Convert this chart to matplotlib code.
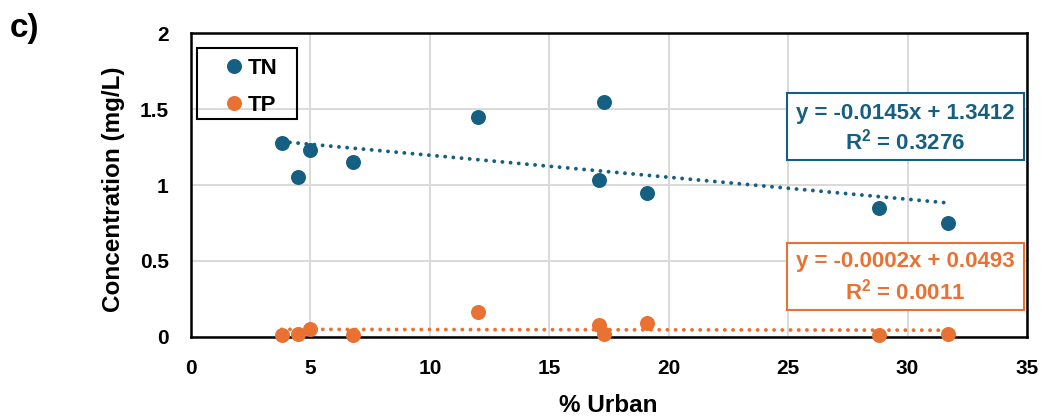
import matplotlib
matplotlib.use("Agg")
import matplotlib.pyplot as plt
from matplotlib.patches import Rectangle
from matplotlib.lines import Line2D
import numpy as np

# ---- data ----
urban = [3.8, 4.5, 5.0, 6.8, 12.0, 17.3, 17.1, 19.1, 28.8, 31.7]
tn = [1.28, 1.05, 1.23, 1.15, 1.45, 1.55, 1.03, 0.95, 0.85, 0.75]
tp = [0.01, 0.02, 0.05, 0.01, 0.16, 0.02, 0.08, 0.09, 0.01, 0.02]
tn_fit = (-0.0145, 1.3412)
tp_fit = (-0.0002, 0.0493)
tn_r2 = "0.3276"
tp_r2 = "0.0011"
xticks = [0, 5, 10, 15, 20, 25, 30, 35]
yticks = [0, 0.5, 1, 1.5, 2]
ytick_labels = ["0", "0.5", "1", "1.5", "2"]

C_TN = "#156082"
C_TP = "#E97132"
FONT = ["Liberation Sans", "DejaVu Sans"]
plt.rcParams["font.family"] = FONT
plt.rcParams["font.weight"] = "bold"
plt.rcParams["mathtext.fontset"] = "custom"
plt.rcParams["mathtext.bf"] = "Liberation Sans:bold"
plt.rcParams["mathtext.rm"] = "Liberation Sans:bold"

fig = plt.figure(figsize=(10.47, 4.19), dpi=100)
ax = fig.add_axes([0.1824, 0.1964, 0.7985, 0.7241])
ax.set_xlim(0, 35)
ax.set_ylim(0, 2)
ax.set_xticks(xticks)
ax.set_xticklabels([str(v) for v in xticks])
ax.set_yticks(yticks)
ax.set_yticklabels(ytick_labels)
ax.tick_params(length=0, labelsize=15, pad=16)
for lab in ax.get_xticklabels() + ax.get_yticklabels():
    lab.set_fontweight("bold")
ax.grid(True, color="#d9d9d9", lw=1.4, zorder=0)
ax.set_axisbelow(True)
for s in ax.spines.values():
    s.set_linewidth(1.8)
    s.set_color("black")
    s.set_zorder(4)

xs = np.array([min(urban), max(urban)])
ax.plot(xs, tn_fit[0] * xs + tn_fit[1], color=C_TN, lw=2.8,
        linestyle=(0, (0.01, 2.1)), dash_capstyle="round", zorder=2)
ax.plot(xs, tp_fit[0] * xs + tp_fit[1], color=C_TP, lw=2.8,
        linestyle=(0, (0.01, 2.1)), dash_capstyle="round", zorder=2)

ax.plot(urban, tn, "o", color=C_TN, ms=10.8, mew=0, clip_on=False, zorder=5)
ax.plot(urban, tp, "o", color=C_TP, ms=10.8, mew=0, clip_on=False, zorder=5)

# legend
handles = [Line2D([], [], ls="none", marker="o", color=C_TN, ms=10.8, mew=0),
           Line2D([], [], ls="none", marker="o", color=C_TP, ms=10.8, mew=0)]
leg = ax.legend(handles, ["TN", "TP"], loc="upper left",
                bbox_to_anchor=(0.0425, 0.918), borderaxespad=0, borderpad=0,
                frameon=False, handlelength=0.7, handletextpad=0.24,
                labelspacing=0.72, prop={"size": 16, "weight": "bold"})
ax.add_patch(Rectangle((0.0075, 0.7175), 0.1189, 0.2331, transform=ax.transAxes,
                       fill=False, ec="black", lw=1.5, zorder=6))

# equation boxes
def eq_box(y0, y1, ty1, ty2, fit, r2, color):
    ax.add_patch(Rectangle((0.713, y0), 0.283, y1 - y0, transform=ax.transAxes,
                           facecolor="white", ec=color, lw=1.5, zorder=6))
    sign = "+" if fit[1] >= 0 else "-"
    ax.text(0.854, ty1, f"y = {fit[0]:.4f}x {sign} {abs(fit[1]):.4f}",
            transform=ax.transAxes, ha="center", va="center", color=color,
            fontsize=16, fontweight="bold", zorder=7)
    ax.text(0.854, ty2, f"R$^\\mathbf{{2}}$ = {r2}", transform=ax.transAxes,
            ha="center", va="center", color=color, fontsize=16,
            fontweight="bold", zorder=7)

eq_box(0.582, 0.802, 0.736, 0.643, tn_fit, tn_r2, C_TN)
eq_box(0.088, 0.308, 0.247, 0.148, tp_fit, tp_r2, C_TP)

fig.text(0.108, 0.548, "Concentration (mg/L)", rotation=90, ha="center",
         va="center", fontsize=17.5, fontweight="bold")
fig.text(0.581, 0.033, "% Urban", ha="center", va="center", fontsize=17.5,
         fontweight="bold")
fig.text(0.009, 0.932, "c)", ha="left", va="center", fontsize=24,
         fontweight="bold")

fig.savefig("out.png", dpi=100)
